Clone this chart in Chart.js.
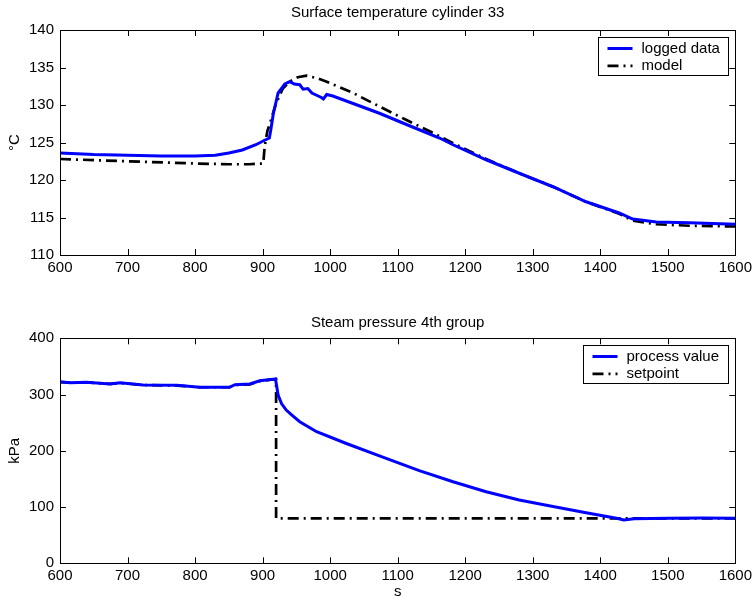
<!DOCTYPE html>
<html>
<head>
<meta charset="utf-8">
<script src="https://cdn.jsdelivr.net/npm/chart.js@4"></script>
<style>
  html, body { margin: 0; padding: 0; background: #fff; }
  #wrap { position: relative; width: 756px; height: 601px; }
  canvas { position: absolute; left: 0; }
  #tempChart { top: 0; }
  #pressChart { top: 300px; }
</style>
</head>
<body>
<div id="wrap">
  <canvas id="tempChart" width="756" height="300"></canvas>
  <canvas id="pressChart" width="756" height="301"></canvas>
</div>
<script>
// Surface temperature cylinder 33
const tempTime   = [600, 650, 700, 750, 800, 830, 850, 870, 890, 903, 910, 912, 916, 923, 933, 940, 947, 955, 960, 967, 973, 980, 987, 990, 995, 1004, 1034, 1073, 1113, 1132, 1162, 1182, 1231, 1280, 1330, 1379, 1428, 1448, 1483, 1532, 1600];
const tempLogged = [123.6, 123.4, 123.3, 123.2, 123.2, 123.3, 123.6, 124.0, 124.7, 125.3, 125.6, 126.6, 128.9, 131.6, 132.8, 133.1, 132.8, 132.7, 132.1, 132.2, 131.6, 131.3, 131.0, 130.8, 131.4, 131.2, 130.2, 128.9, 127.4, 126.7, 125.6, 124.7, 122.7, 120.9, 119.1, 117.1, 115.6, 114.8, 114.4, 114.3, 114.1];
const modelTime  = [600, 700, 800, 850, 880, 901, 903, 907, 911, 920, 930, 940, 952, 965, 980, 995, 1034, 1073, 1113, 1152, 1182, 1231, 1280, 1330, 1379, 1428, 1448, 1483, 1532, 1600];
const modelTemp  = [122.8, 122.5, 122.2, 122.1, 122.1, 122.2, 124.4, 126.5, 127.6, 130.2, 132.2, 133.1, 133.7, 133.9, 133.6, 133.1, 131.6, 129.8, 128.0, 126.3, 124.9, 122.8, 120.9, 119.1, 117.1, 115.5, 114.6, 114.1, 113.9, 113.8];

// Steam pressure 4th group
const pressTime  = [600, 615, 639, 674, 689, 723, 773, 807, 851, 859, 881, 896, 915, 919, 921, 923, 928, 935, 943, 955, 980, 1024, 1073, 1132, 1182, 1231, 1280, 1330, 1379, 1424, 1435, 1450, 1500, 1550, 1600];
const pressValue = [322.8, 321, 321.8, 318.8, 321, 317, 316.4, 313, 313, 317.5, 318.8, 324.6, 327, 328, 314, 299, 284, 272.5, 263.7, 251.7, 234, 213, 191, 164.7, 145, 127.3, 112.5, 101, 90, 80, 77, 79, 80, 80.5, 80];
const spTime     = [600, 615, 639, 674, 689, 723, 773, 807, 851, 859, 881, 896, 915, 920, 920, 1600];
const spValue    = [322, 321, 321.5, 319, 320.5, 317, 316, 313, 313, 317, 318, 324, 327, 327, 80, 80];

const xTicks = { min: 600, max: 1600, step: 100 };

const FONT_FAMILY = "'Liberation Sans', Arial, Helvetica, sans-serif";
const FONT_SIZE = 15;
Chart.defaults.font.family = FONT_FAMILY;
Chart.defaults.font.size = FONT_SIZE;
Chart.defaults.color = '#000';

const toPoints = (xs, ys) => xs.map((x, i) => ({ x: x, y: ys[i] }));

// title centred over the axes box, box + inward ticks on all four sides
const framePlugin = {
    id: 'frame',
    afterDatasetsDraw(chart, args, opts) {
        const { ctx, chartArea: a, scales: { x, y } } = chart;
        const len = 6;
        ctx.save();
        ctx.strokeStyle = '#000';
        ctx.lineWidth = 1;
        ctx.beginPath();
        x.ticks.forEach(t => {
            const px = Math.round(x.getPixelForValue(t.value)) + 0.5;
            ctx.moveTo(px, a.bottom); ctx.lineTo(px, a.bottom - len);
            ctx.moveTo(px, a.top); ctx.lineTo(px, a.top + len);
        });
        y.ticks.forEach(t => {
            const py = Math.round(y.getPixelForValue(t.value)) + 0.5;
            ctx.moveTo(a.left, py); ctx.lineTo(a.left + len, py);
            ctx.moveTo(a.right, py); ctx.lineTo(a.right - len, py);
        });
        ctx.stroke();
        ctx.strokeRect(Math.round(a.left) + 0.5, Math.round(a.top) + 0.5,
            Math.round(a.right - a.left), Math.round(a.bottom - a.top));

        ctx.fillStyle = '#000';
        ctx.font = FONT_SIZE + 'px ' + FONT_FAMILY;
        ctx.textAlign = 'center';
        ctx.textBaseline = 'middle';
        ctx.fillText(opts.text, (a.left + a.right) / 2, a.top - opts.gap);
        ctx.restore();
    }
};

// matlab-style boxed legend in the upper right corner
const boxLegend = {
    id: 'boxLegend',
    afterDraw(chart) {
        const { ctx, chartArea: a } = chart;
        const ds = chart.data.datasets;
        ctx.save();
        ctx.font = FONT_SIZE + 'px ' + FONT_FAMILY;
        const textW = Math.max(...ds.map(d => ctx.measureText(d.label).width));
        const rowH = 17.4;
        const w = Math.round(9 + 25 + 9 + textW + 9);
        const h = 38;
        const x0 = Math.round(a.right - 7 - w) + 0.5;
        const y0 = Math.round(a.top + 7) + 0.5;
        ctx.fillStyle = '#fff';
        ctx.fillRect(x0, y0, w, h);
        ctx.strokeStyle = '#000';
        ctx.lineWidth = 1;
        ctx.strokeRect(x0, y0, w, h);
        ds.forEach((d, i) => {
            const cy = y0 + 11 + i * rowH;
            ctx.save();
            ctx.strokeStyle = d.borderColor;
            ctx.lineWidth = d.borderWidth;
            ctx.setLineDash(d.borderDash || []);
            ctx.beginPath();
            ctx.moveTo(x0 + 9, cy);
            ctx.lineTo(x0 + 34, cy);
            ctx.stroke();
            ctx.restore();
            ctx.fillStyle = '#000';
            ctx.textBaseline = 'middle';
            ctx.textAlign = 'left';
            ctx.fillText(d.label, x0 + 43, cy);
        });
        ctx.restore();
    }
};

function makeChart(id, cfg) {
    const ctx = document.getElementById(id).getContext('2d');
    return new Chart(ctx, {
        type: 'line',
        data: {
            datasets: [
                {
                    label: cfg.labels[0],
                    data: cfg.series[0],
                    borderColor: '#0000ff',
                    borderWidth: 3,
                    pointRadius: 0,
                    tension: 0,
                    fill: false
                },
                {
                    label: cfg.labels[1],
                    data: cfg.series[1],
                    borderColor: '#000000',
                    borderWidth: 2.7,
                    borderDash: [11, 5, 2, 5],
                    pointRadius: 0,
                    tension: 0,
                    fill: false
                }
            ]
        },
        options: {
            responsive: false,
            animation: false,
            layout: { padding: { left: 0, right: 20, top: cfg.top, bottom: 0 } },
            plugins: {
                legend: { display: false },
                tooltip: { enabled: false },
                title: { display: false },
                frame: { text: cfg.title, gap: cfg.titleGap }
            },
            scales: {
                x: {
                    type: 'linear',
                    min: xTicks.min,
                    max: xTicks.max,
                    ticks: {
                        stepSize: xTicks.step, padding: 4, maxRotation: 0, autoSkip: false, color: '#000',
                        callback: v => String(v)
                    },
                    grid: { display: false, drawTicks: false },
                    border: { display: false },
                    title: cfg.xTitle
                        ? { display: true, text: cfg.xTitle, color: '#000', padding: 0 }
                        : { display: false },
                    afterFit: s => { s.height = cfg.xHeight; }
                },
                y: {
                    min: cfg.yMin,
                    max: cfg.yMax,
                    ticks: { stepSize: cfg.yStep, padding: 6, color: '#000', callback: v => String(v) },
                    grid: { display: false, drawTicks: false },
                    border: { display: false },
                    title: { display: true, text: cfg.yTitle, color: '#000', padding: { top: 6, bottom: 0 } },
                    afterFit: s => { s.width = 60; }
                }
            }
        },
        plugins: [framePlugin, boxLegend]
    });
}

makeChart('tempChart', {
    title: 'Surface temperature cylinder 33',
    top: 30, titleGap: 17,
    labels: ['logged data', 'model'],
    series: [toPoints(tempTime, tempLogged), toPoints(modelTime, modelTemp)],
    yMin: 110, yMax: 140, yStep: 5,
    yTitle: '°C',
    xHeight: 45
});

makeChart('pressChart', {
    title: 'Steam pressure 4th group',
    top: 38.3, titleGap: 15.6,
    labels: ['process value', 'setpoint'],
    series: [toPoints(pressTime, pressValue), toPoints(spTime, spValue)],
    yMin: 0, yMax: 400, yStep: 100,
    yTitle: 'kPa',
    xTitle: 's',
    xHeight: 37.7
});
</script>
</body>
</html>
